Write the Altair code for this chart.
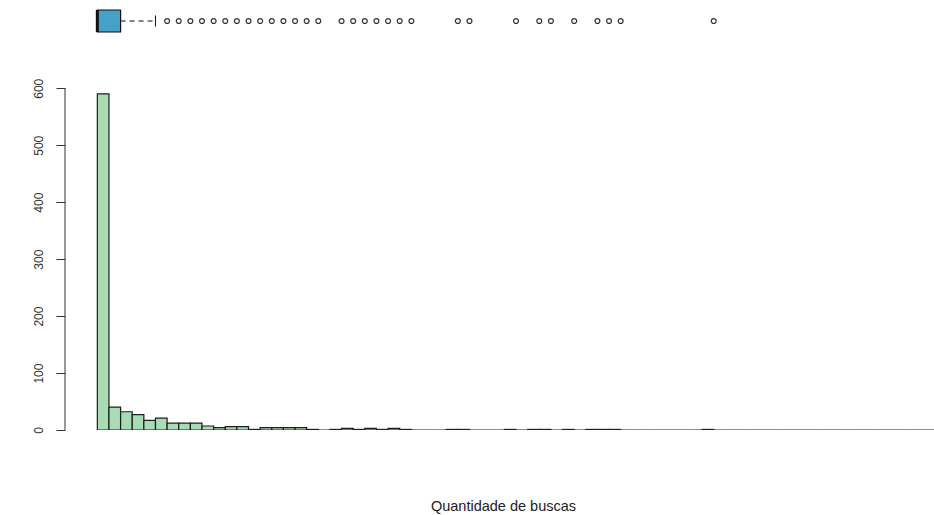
import altair as alt
import pandas as pd

# Frequency of each unit-wide bin (bin i covers i..i+1), from 0 up to 72
counts = [590, 40, 32, 27, 17, 21, 12, 12, 12, 7, 4, 6, 6, 1, 4, 4, 4, 4, 1, 0,
          1, 3, 1, 3, 1, 3, 1, 0, 0, 0, 1, 1, 0, 0, 0, 1, 0, 1, 1, 0,
          1, 0, 1, 1, 1, 0, 0, 0, 0, 0, 0, 0, 1, 0, 0, 0, 0, 0, 0, 0,
          0, 0, 0, 0, 0, 0, 0, 0, 0, 0, 0, 0]
bin_starts = list(range(len(counts)))

# Boxplot summary of the same variable
q1 = [0]
median = [0]
q3 = [2]
whisker_hi = [5]
outliers = [6, 7, 8, 9, 10, 11, 12, 13, 14, 15, 16, 17, 18, 19,
            21, 22, 23, 24, 25, 26, 27,
            31, 32, 36, 38, 39, 41, 43, 44, 45, 53]

y_ticks = [0, 100, 200, 300, 400, 500, 600]

hist_df = pd.DataFrame({"lo": bin_starts,
                        "hi": [b + 1 for b in bin_starts],
                        "count": counts})
box_df = pd.DataFrame({"q1": q1, "median": median, "q3": q3, "whi": whisker_hi})
out_df = pd.DataFrame({"v": outliers})
axis_df = pd.DataFrame({"y0": [y_ticks[0]], "y1": [y_ticks[-1]]})

FONT = "Liberation Sans"
INK = "#333333"

x_scale = alt.Scale(domain=[-2.78, 71.94], nice=False, zero=False)
y_scale = alt.Scale(domain=[0, 755], nice=False)

# Shared axis definitions so the layered axes merge cleanly
x_axis = alt.Axis(title="Quantidade de buscas", labels=False, ticks=False,
                  domain=False, grid=False, titleFont=FONT, titleFontSize=14.5,
                  titleFontWeight="normal", titleColor="#222222",
                  titleX=438, titleY=76, titleBaseline="middle",
                  titleAlign="center")
y_axis = alt.Axis(values=y_ticks, title=None, grid=False, domain=False,
                  tickSize=9, tickColor=INK, tickWidth=1,
                  labelAngle=270, labelAlign="center", labelBaseline="bottom",
                  labelPadding=11, labelFontSize=12, labelColor=INK,
                  labelFont=FONT)

bars = alt.Chart(hist_df).mark_rect(
    fill="#a9dcb5", stroke="#1e1e1e", strokeWidth=1.2, clip=True
).encode(
    x=alt.X("lo:Q", scale=x_scale, axis=x_axis),
    x2="hi:Q",
    y=alt.Y("count:Q", scale=y_scale, axis=y_axis),
    y2=alt.datum(0),
)

# y axis line spanning only the tick range
y_line = alt.Chart(axis_df).mark_rule(color=INK, strokeWidth=1).encode(
    x=alt.value(0),
    y=alt.Y("y0:Q", scale=y_scale, axis=y_axis),
    y2="y1:Q",
)

box = alt.Chart(box_df).mark_rect(
    fill="#45a1c9", stroke="#111111", strokeWidth=1.2
).encode(
    x=alt.X("q1:Q", scale=x_scale, axis=x_axis),
    x2="q3:Q",
    y=alt.value(10),
    y2=alt.value(32),
)

med = alt.Chart(box_df).mark_rule(color="#111111", strokeWidth=3).encode(
    x=alt.X("median:Q", scale=x_scale, axis=x_axis),
    y=alt.value(10),
    y2=alt.value(32),
)

whisker = alt.Chart(box_df).mark_rule(color="#111111", strokeWidth=1,
                                      strokeDash=[5, 4]).encode(
    x=alt.X("q3:Q", scale=x_scale, axis=x_axis),
    x2="whi:Q",
    y=alt.value(21),
)

staple = alt.Chart(box_df).mark_rule(color="#111111", strokeWidth=1).encode(
    x=alt.X("whi:Q", scale=x_scale, axis=x_axis),
    y=alt.value(15.5),
    y2=alt.value(26.5),
)

points = alt.Chart(out_df).mark_point(
    shape="circle", size=24, filled=False, stroke=INK, strokeWidth=1.2, opacity=1
).encode(
    x=alt.X("v:Q", scale=x_scale, axis=x_axis),
    y=alt.value(21),
)

chart = alt.layer(bars, y_line, box, med, whisker, staple, points).properties(
    width=869,
    height=430,
    autosize=alt.AutoSizeParams(type="none"),
    padding={"left": 65, "top": 0, "right": 0, "bottom": 85},
    background="white",
).configure_view(stroke=None)

chart.save("out.html", embed_options={"renderer": "svg", "actions": False})
